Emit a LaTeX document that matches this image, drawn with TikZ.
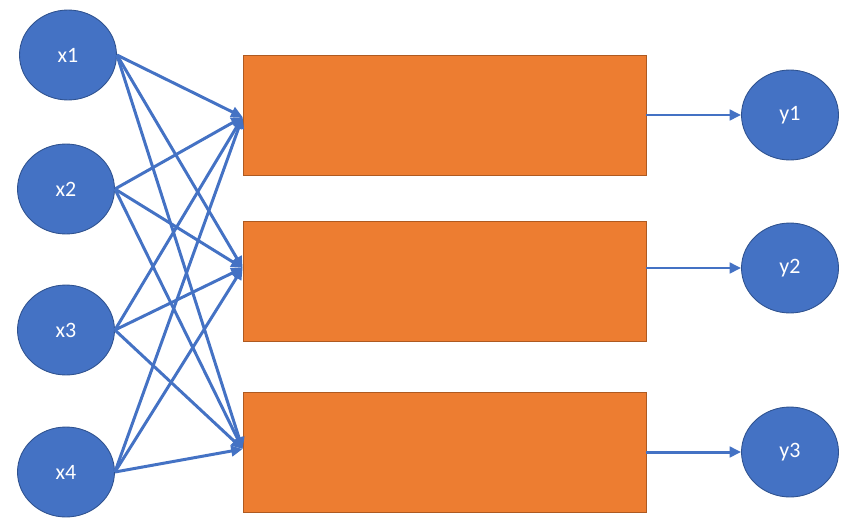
\documentclass[tikz,border=0pt]{standalone}
\usepackage{fontspec}
\setmainfont{Carlito}
\usepackage{tikz}
\usetikzlibrary{shapes.geometric}
\usetikzlibrary{arrows.meta}
\definecolor{unitblue}{HTML}{4472C4}
\definecolor{unitedge}{HTML}{2F528F}
\definecolor{blockorange}{HTML}{ED7D31}
\definecolor{blockedge}{HTML}{AE5A21}

\begin{document}
\begin{tikzpicture}[x=0.02cm, y=-0.02cm,
    unit/.style={ellipse, draw=unitedge, fill=unitblue, line width=0.5pt,
      minimum width=1.94cm, minimum height=1.8cm, inner sep=0pt,
      text=white, font=\fontsize{12.5}{15}\selectfont},
    block/.style={rectangle, draw=blockedge, fill=blockorange, line width=0.5pt,
      minimum width=8.06cm, minimum height=2.4cm},
    link/.style={-{Triangle[length=6.5pt, width=6pt]}, draw=unitblue, line width=1.7pt}]
                \useasboundingbox (0,0) rectangle (856,528);

                % Inputs (Left)
                \node[unit] (x1) at (68,55) {x1};
                \node[unit] (x2) at (66,189) {x2};
                \node[unit] (x3) at (66,330) {x3};
                \node[unit] (x4) at (66,472) {x4};

                % Blocks (Middle)
                \node[block] (b1) at (444.5,115) {};
                \node[block] (b2) at (444.5,281) {};
                \node[block] (b3) at (444.5,452) {};

                % Outputs (Right)
                \node[unit] (y1) at (790,115) {y1};
                \node[unit] (y2) at (790,268) {y2};
                \node[unit] (y3) at (790,452) {y3};

                % Ports on the blocks
                \coordinate (in1) at (b1.west |- 0,117);
                \coordinate (in2) at (b2.west |- y2);
                \coordinate (in3) at (b3.west |- 0,449);
                \foreach \j in {1,2,3}
                    \coordinate (out\j) at (b\j.east |- y\j);

                % Connections
                \foreach \i in {1,...,4}
                    \foreach \j in {1,2,3}
                        \draw[link] (x\i.east) -- (in\j);
                \foreach \j in {1,2,3}
                    \draw[link] (out\j) -- (y\j.west);
\end{tikzpicture}
\end{document}
